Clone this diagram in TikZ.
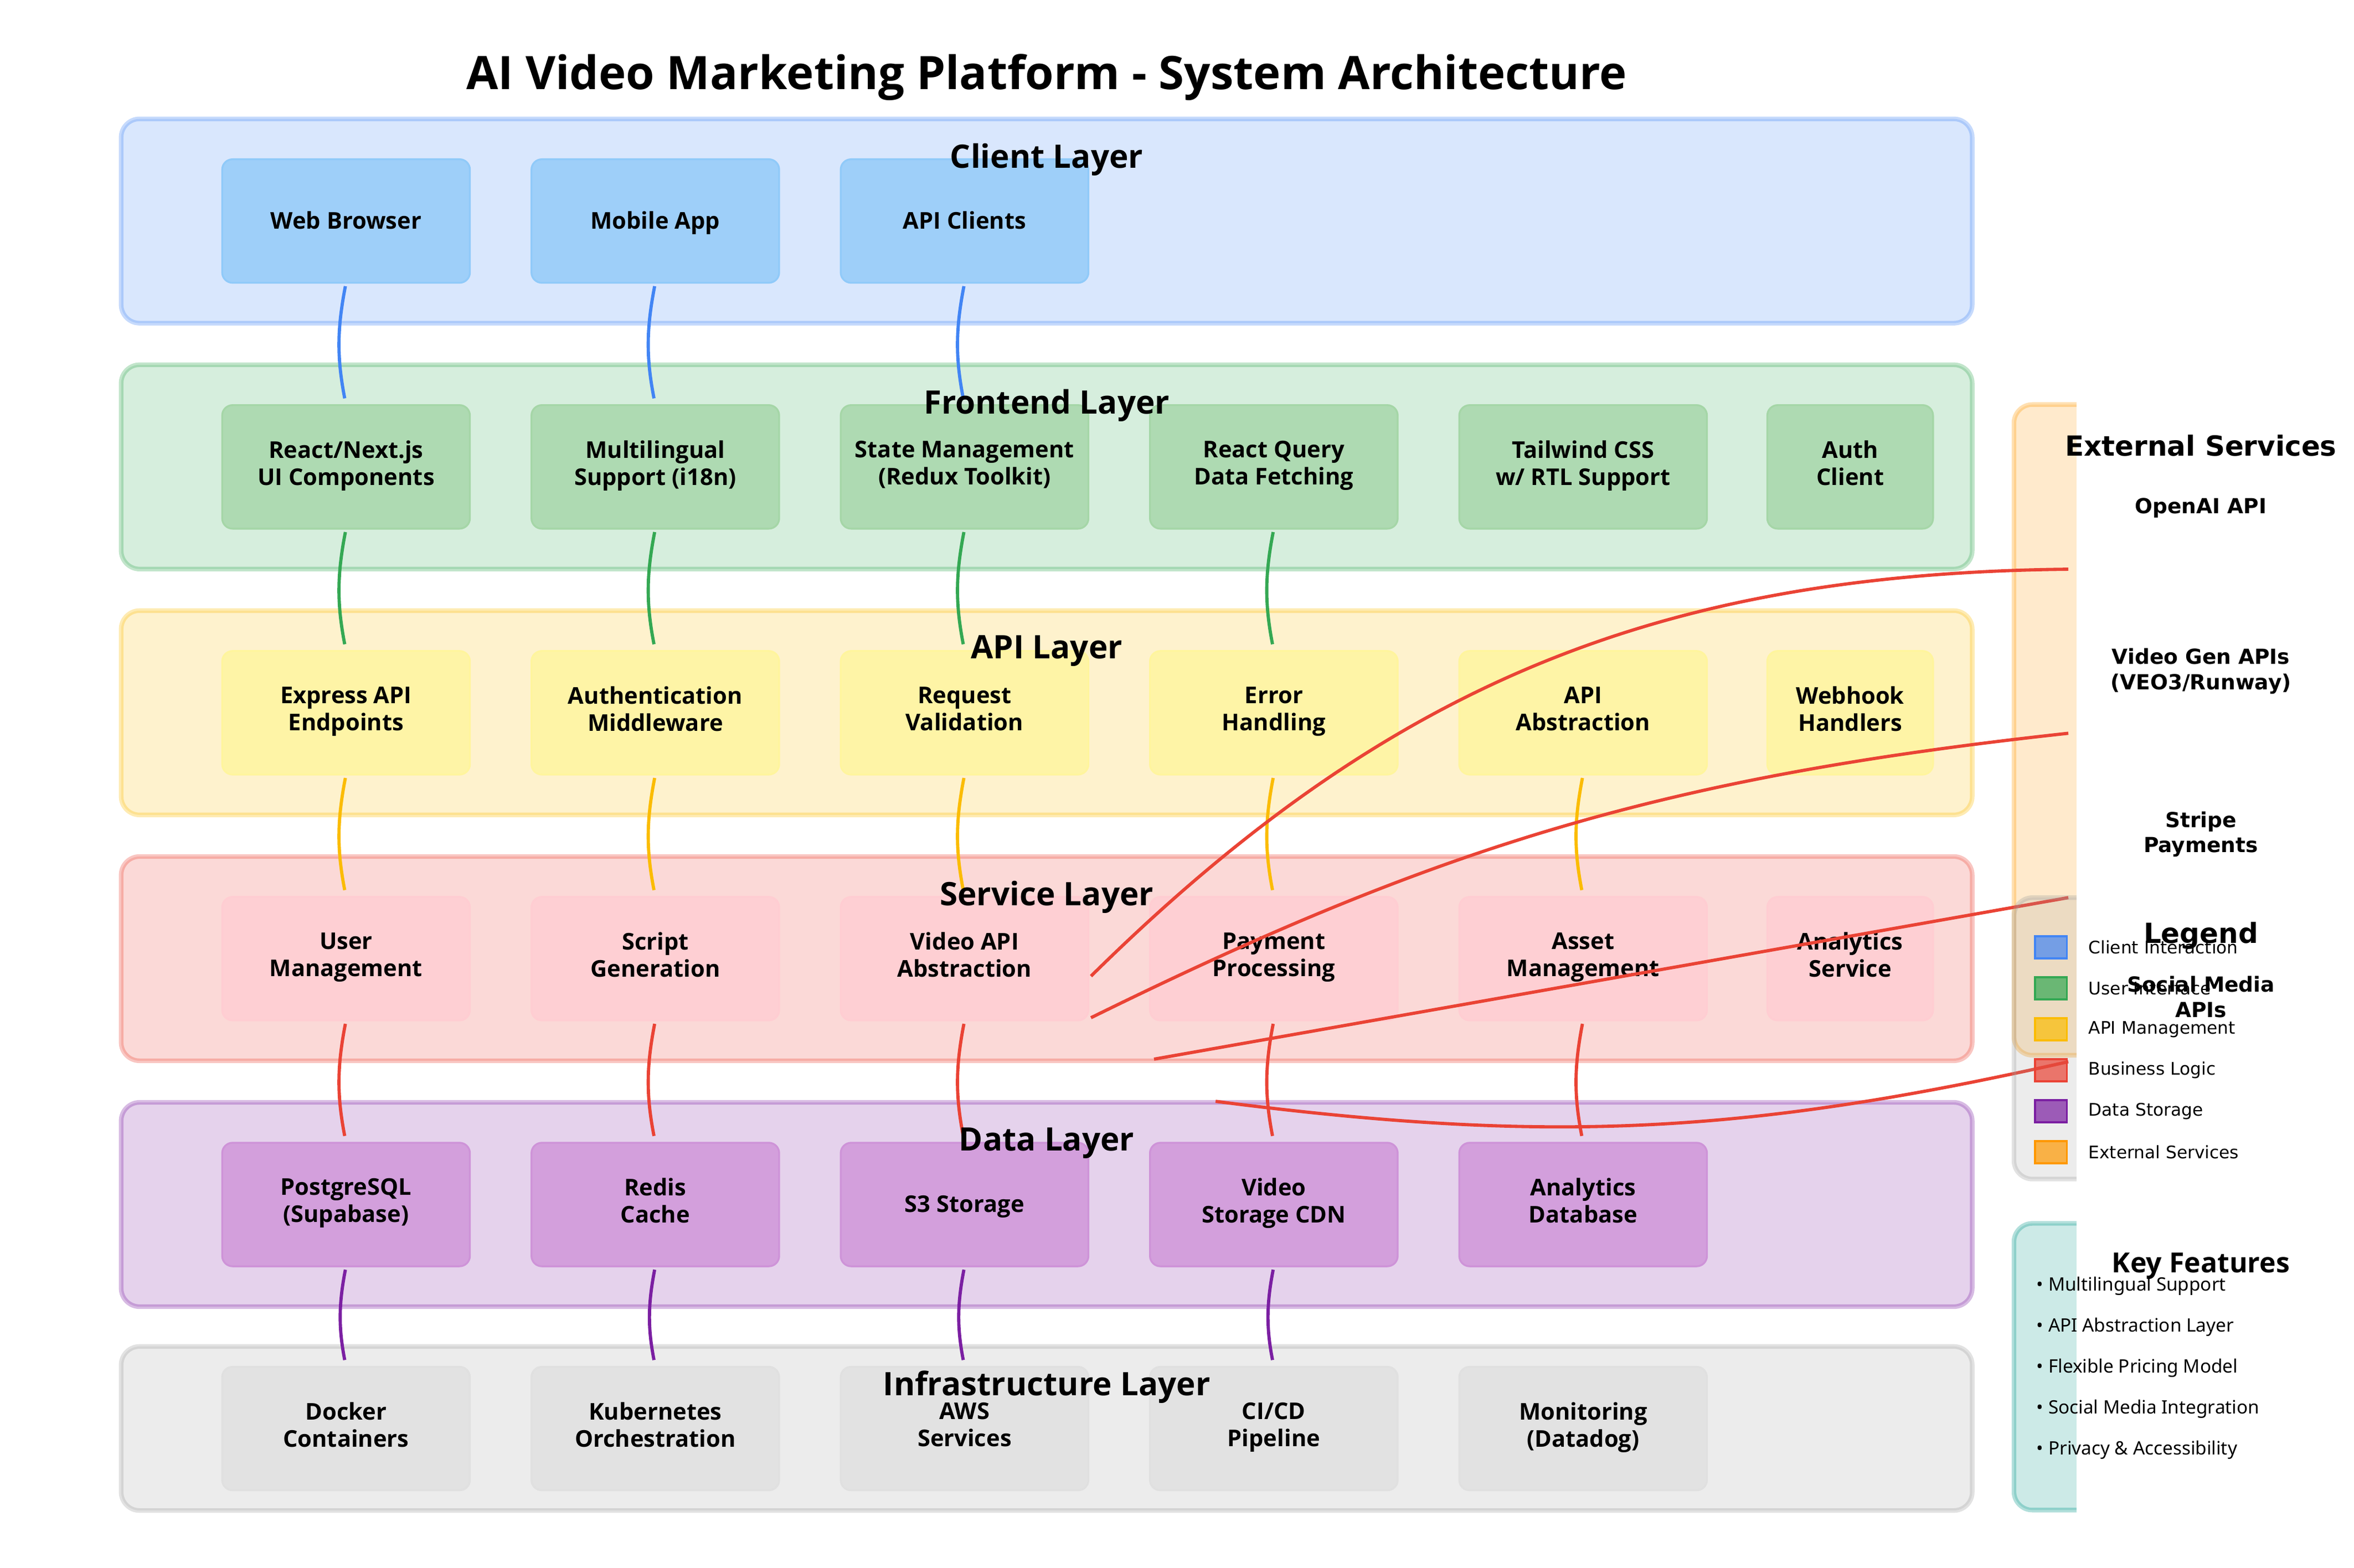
\documentclass[tikz,border=0pt]{standalone}
\usepackage{fontspec}
\setmainfont{Open Sans}
\newfontfamily\noto{Noto Sans}
\newfontfamily\djv{DejaVu Sans}
\usepackage{tikz}
\definecolor{cblue}{HTML}{4285F4}
\definecolor{cgreen}{HTML}{34A853}
\definecolor{cyellow}{HTML}{FBBC04}
\definecolor{cred}{HTML}{EA4335}
\definecolor{cpurple}{HTML}{7B1FA2}
\definecolor{cgray}{HTML}{9E9E9E}
\definecolor{corange}{HTML}{FF9800}
\definecolor{cteal}{HTML}{009688}
\definecolor{bblue}{HTML}{90CAF9}
\definecolor{bgreen}{HTML}{A5D6A7}
\definecolor{byellow}{HTML}{FFF59D}
\definecolor{bred}{HTML}{FFCDD2}
\definecolor{bpurple}{HTML}{CE93D8}
\definecolor{bgray}{HTML}{E0E0E0}
\tikzstyle{layer}=[rounded corners=8pt, line width=2pt, fill opacity=0.2, draw opacity=0.3]
\tikzstyle{comp}=[rectangle, rounded corners=4.5pt, line width=0.8pt, fill opacity=0.8, text opacity=1, minimum width=107.35pt, minimum height=53.54pt, inner sep=1pt, outer sep=0pt, align=center, font=\bfseries\fontsize{10}{11.7}\selectfont, execute at begin node=\rule{0pt}{10.2pt}, execute at end node=\strut]
\tikzstyle{narrow}=[minimum width=71.83pt]
\tikzstyle{layerlabel}=[font=\bfseries\fontsize{14}{16.8}\selectfont]
\tikzstyle{conn}=[line width=1.4pt, shorten <=1.5pt, shorten >=3pt]
\tikzstyle{ext}=[line width=1.4pt, cred]
\tikzstyle{swatch}=[rectangle, minimum width=13.8pt, minimum height=9.6pt, inner sep=0pt, line width=0.8pt, fill opacity=0.7]
\tikzstyle{legtext}=[anchor=west, inner sep=0pt, font=\djv\fontsize{7.5}{9}\selectfont]
\tikzstyle{feat}=[anchor=west, inner sep=0pt, font=\noto\fontsize{8}{9.6}\selectfont]
\tikzstyle{svc}=[align=center, font=\djv\bfseries\fontsize{9}{11}\selectfont]

\begin{document}
\begin{tikzpicture}[x=0.6506pt, y=-0.6506pt]
			\useasboundingbox (0,0) rectangle (1568,1044.6);

			% Layers
			\draw[layer,draw=cblue,fill=cblue] (80.7,79.2) rectangle (1313.7,215.3);
			\draw[layer,draw=cgreen,fill=cgreen] (80.7,243.0) rectangle (1313.7,379.1);
			\draw[layer,draw=cyellow,fill=cyellow] (80.7,406.8) rectangle (1313.7,542.9);
			\draw[layer,draw=cred,fill=cred] (80.7,570.6) rectangle (1313.7,706.7);
			\draw[layer,draw=cpurple,fill=cpurple] (80.7,734.4) rectangle (1313.7,870.5);
			\draw[layer,draw=cgray,fill=cgray] (80.7,897.0) rectangle (1313.7,1006.3);

			% External panel, cut at the axes edge
			\begin{scope}
				\clip (0,0) rectangle (1383.1,1044.6);
				\draw[layer,draw=corange,fill=corange] (1341.5,269.5) rectangle (1650,703.0);
			\end{scope}

			% Client
			\node[comp,fill=bblue,draw=bblue] (c1) at (230.5,147.25) {Web Browser};
			\node[comp,fill=bblue,draw=bblue] (c2) at (436.5,147.25) {Mobile App};
			\node[comp,fill=bblue,draw=bblue] (c3) at (642.5,147.25) {API Clients};
			% Frontend
			\node[comp,fill=bgreen,draw=bgreen] (f1) at (230.5,311.05) {React/Next.js\\UI Components};
			\node[comp,fill=bgreen,draw=bgreen] (f2) at (436.5,311.05) {Multilingual\\Support (i18n)};
			\node[comp,fill=bgreen,draw=bgreen] (f3) at (642.5,311.05) {State Management\\(Redux Toolkit)};
			\node[comp,fill=bgreen,draw=bgreen] (f4) at (848.5,311.05) {React Query\\Data Fetching};
			\node[comp,fill=bgreen,draw=bgreen] (f5) at (1054.5,311.05) {Tailwind CSS\\w/ RTL Support};
			\node[comp,narrow,fill=bgreen,draw=bgreen] (f6) at (1232.4,311.05) {Auth\\Client};
			% API
			\node[comp,fill=byellow,draw=byellow] (a1) at (230.5,474.85) {Express API\\Endpoints};
			\node[comp,fill=byellow,draw=byellow] (a2) at (436.5,474.85) {Authentication\\Middleware};
			\node[comp,fill=byellow,draw=byellow] (a3) at (642.5,474.85) {Request\\Validation};
			\node[comp,fill=byellow,draw=byellow] (a4) at (848.5,474.85) {Error\\Handling};
			\node[comp,fill=byellow,draw=byellow] (a5) at (1054.5,474.85) {API\\Abstraction};
			\node[comp,narrow,fill=byellow,draw=byellow] (a6) at (1232.4,474.85) {Webhook\\Handlers};
			% Service
			\node[comp,fill=bred,draw=bred] (s1) at (230.5,638.65) {User\\Management};
			\node[comp,fill=bred,draw=bred] (s2) at (436.5,638.65) {Script\\Generation};
			\node[comp,fill=bred,draw=bred] (s3) at (642.5,638.65) {Video API\\Abstraction};
			\node[comp,fill=bred,draw=bred] (s4) at (848.5,638.65) {Payment\\Processing};
			\node[comp,fill=bred,draw=bred] (s5) at (1054.5,638.65) {Asset\\Management};
			\node[comp,narrow,fill=bred,draw=bred] (s6) at (1232.4,638.65) {Analytics\\Service};
			% Data
			\node[comp,fill=bpurple,draw=bpurple] (d1) at (230.5,802.45) {PostgreSQL\\(Supabase)};
			\node[comp,fill=bpurple,draw=bpurple] (d2) at (436.5,802.45) {Redis\\Cache};
			\node[comp,fill=bpurple,draw=bpurple] (d3) at (642.5,802.45) {S3 Storage};
			\node[comp,fill=bpurple,draw=bpurple] (d4) at (848.5,802.45) {Video\\Storage CDN};
			\node[comp,fill=bpurple,draw=bpurple] (d5) at (1054.5,802.45) {Analytics\\Database};
			% Infrastructure
			\node[comp,fill=bgray,draw=bgray] (i1) at (230.5,951.7) {Docker\\Containers};
			\node[comp,fill=bgray,draw=bgray] (i2) at (436.5,951.7) {Kubernetes\\Orchestration};
			\node[comp,fill=bgray,draw=bgray] (i3) at (642.5,951.7) {AWS\\Services};
			\node[comp,fill=bgray,draw=bgray] (i4) at (848.5,951.7) {CI/CD\\Pipeline};
			\node[comp,fill=bgray,draw=bgray] (i5) at (1054.5,951.7) {Monitoring\\(Datadog)};

			% Layer to layer
			\draw[conn,cblue] (c1.south)edge[bend right=11](f1.north) (c2.south)edge[bend right=11](f2.north) (c3.south)edge[bend right=11](f3.north);
			\draw[conn,cgreen] (f1.south)edge[bend right=11](a1.north) (f2.south)edge[bend right=11](a2.north) (f3.south)edge[bend right=11](a3.north) (f4.south)edge[bend right=11](a4.north);
			\draw[conn,cyellow] (a1.south)edge[bend right=11](s1.north) (a2.south)edge[bend right=11](s2.north) (a3.south)edge[bend right=11](s3.north) (a4.south)edge[bend right=11](s4.north) (a5.south)edge[bend right=11](s5.north);
			\draw[conn,cred] (s1.south)edge[bend right=11](d1.north) (s2.south)edge[bend right=11](d2.north) (s3.south)edge[bend right=11](d3.north) (s4.south)edge[bend right=11](d4.north) (s5.south)edge[bend right=11](d5.north);
			\draw[conn,cpurple] (d1.south)edge[bend right=11](i1.north) (d2.south)edge[bend right=11](i2.north) (d3.south)edge[bend right=11](i3.north) (d4.south)edge[bend right=11](i4.north);

			% Out to external services
			\coordinate (o1) at (726.7,650.3);
			\coordinate (o2) at (726.7,678.0);
			\coordinate (o3) at (768.7,705.6);
			\coordinate (o4) at (809.7,733.7);
			\coordinate (e1) at (1377.7,379.2);
			\coordinate (e2) at (1377.7,488.5);
			\coordinate (e3) at (1377.7,598.0);
			\coordinate (e4) at (1377.7,707.3);
			\draw[ext] (o1) to[bend left=22] (e1) (o2) to[bend left=10] (e2) (o3) -- (e3) (o4) to[bend right=10] (e4);

			% Legend and features panels
			\begin{scope}
				\clip (0,0) rectangle (1383.1,1044.6);
				\draw[layer,draw=cgray,fill=cgray] (1341.5,598.0) rectangle (1650,785.5);
				\draw[layer,draw=cteal,fill=cteal] (1341.5,815.0) rectangle (1650,1006.0);
				\node[swatch,fill=cblue,draw=cblue] (k1) at (1366.1,631.1) {};
				\node[swatch,fill=cgreen,draw=cgreen] (k2) at (1366.1,658.4) {};
				\node[swatch,fill=cyellow,draw=cyellow] (k3) at (1366.1,685.7) {};
				\node[swatch,fill=cred,draw=cred] (k4) at (1366.1,713.0) {};
				\node[swatch,fill=cpurple,draw=cpurple] (k5) at (1366.1,740.3) {};
				\node[swatch,fill=corange,draw=corange] (k6) at (1366.1,767.6) {};
			\end{scope}

			% Labels
			\node[font=\bfseries\fontsize{20}{24}\selectfont] (title) at (697.2,51.5) {AI Video Marketing Platform - System Architecture};
			\node[layerlabel] (lc) at (697.2,106.2) {Client Layer};
			\node[layerlabel] (lf) at (697.2,270.0) {Frontend Layer};
			\node[layerlabel] (la) at (697.2,433.8) {API Layer};
			\node[layerlabel] (ls) at (697.2,597.6) {Service Layer};
			\node[layerlabel] (ld) at (697.2,761.4) {Data Layer};
			\node[layerlabel] (li) at (697.2,924.0) {Infrastructure Layer};

			\node[font=\djv\bfseries\fontsize{12}{14.4}\selectfont] (xh) at (1466,297.0) {External Services};
			\node[svc] (x1) at (1466,338.5) {OpenAI API};
			\node[svc] (x2) at (1466,447.2) {Video Gen APIs\\(VEO3/Runway)};
			\node[svc] (x3) at (1466,555.8) {Stripe\\Payments};
			\node[svc] (x4) at (1466,664.2) {Social Media\\APIs};

			\node[font=\djv\bfseries\fontsize{12}{14.4}\selectfont] (lh) at (1466,623.4) {Legend};
			\node[legtext] (t1) at (1390.9,631.1) {Client Interaction};
			\node[legtext] (t2) at (1390.9,658.4) {User Interface};
			\node[legtext] (t3) at (1390.9,685.7) {API Management};
			\node[legtext] (t4) at (1390.9,713.0) {Business Logic};
			\node[legtext] (t5) at (1390.9,740.3) {Data Storage};
			\node[legtext] (t6) at (1390.9,767.6) {External Services};

			\node[font=\bfseries\fontsize{12}{14.4}\selectfont] (fh) at (1466,843.5) {Key Features};
			\node[feat] (g1) at (1356.3,856.6) {• Multilingual Support};
			\node[feat] (g2) at (1356.3,883.9) {• API Abstraction Layer};
			\node[feat] (g3) at (1356.3,911.2) {• Flexible Pricing Model};
			\node[feat] (g4) at (1356.3,938.5) {• Social Media Integration};
			\node[feat] (g5) at (1356.3,965.8) {• Privacy \& Accessibility};
		\end{tikzpicture}
\end{document}
